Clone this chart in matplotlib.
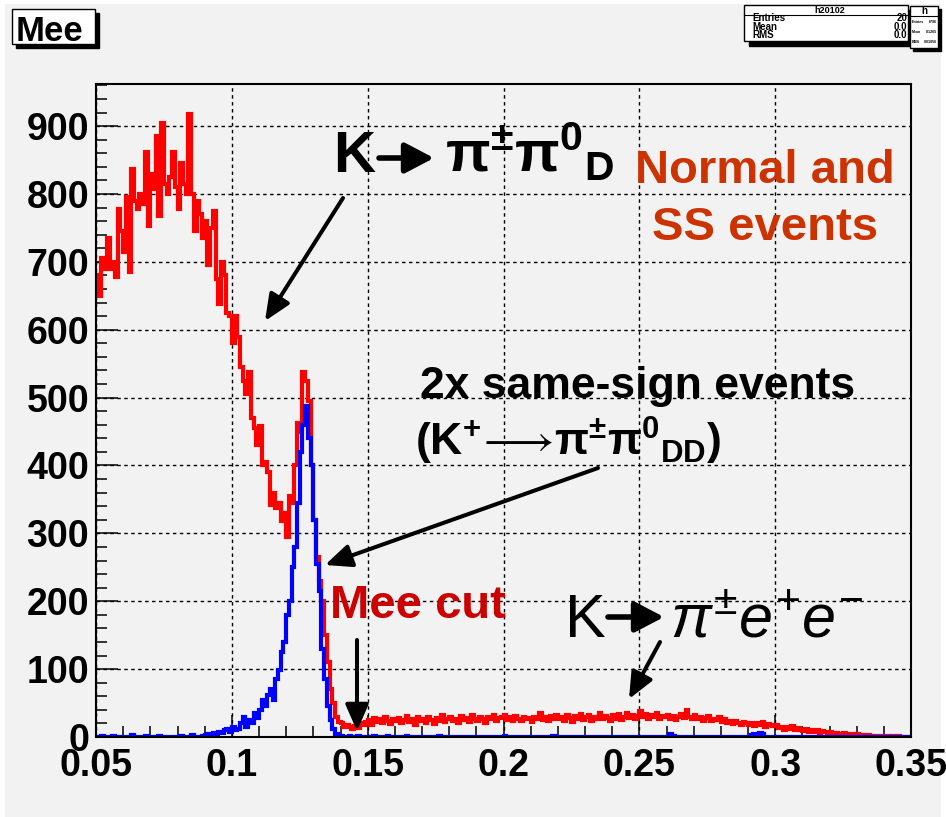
import numpy as np
import matplotlib
matplotlib.use("Agg")
import matplotlib.pyplot as plt
from matplotlib.patches import Rectangle, FancyArrowPatch

plt.rcParams['font.family'] = ['Liberation Sans', 'DejaVu Sans']
plt.rcParams['mathtext.fontset'] = 'custom'
plt.rcParams['mathtext.rm'] = 'Liberation Sans'
plt.rcParams['mathtext.it'] = 'Liberation Sans:italic'
plt.rcParams['mathtext.bf'] = 'Liberation Sans:bold'

# ---------------- histogram data (Mee, bin width 0.001 from 0.05 to 0.35) ----------------
bin_lo, bin_hi, bin_w = 0.05, 0.35, 0.001

normal_ss = [
    # 0.050 - 0.089
    680, 650, 705, 690, 735, 690, 700, 678, 778, 745,
    715, 796, 685, 837, 790, 778, 800, 785, 862, 753,
    830, 808, 885, 768, 904, 815, 800, 825, 862, 810,
    778, 845, 815, 800, 918, 800, 745, 790, 770, 735,
    # 0.090 - 0.139
    760, 695, 750, 775, 675, 638, 700, 680, 625, 620,
    580, 620, 590, 545, 525, 505, 538, 470, 455, 430,
    458, 400, 405, 390, 342, 360, 338, 345, 318, 330,
    295, 355, 345, 400, 462, 450, 538, 525, 495, 400,
    320, 265, 230, 200, 150, 110, 70, 50, 30, 22,
    # 0.140 - 0.349
    20, 15, 18, 14, 12, 16, 13, 20, 17, 22,
    25, 18, 28, 22, 26, 20, 30, 24, 19, 27,
    23, 28, 20, 25, 31, 22, 26, 18, 29, 24,
    27, 21, 30, 25, 19, 28, 24, 32, 22, 26,
    29, 23, 27, 20, 31, 25, 28, 22, 33, 26,
    24, 30, 27, 21, 29, 26, 32, 24, 28, 30,
    33, 25, 29, 23, 31, 27, 24, 30, 26, 28,
    22, 30, 27, 36, 25, 29, 23, 31, 27, 33,
    26, 30, 24, 32, 28, 22, 31, 27, 34, 25,
    29, 33, 24, 30, 27, 35, 26, 31, 28, 24,
    32, 27, 34, 25, 30, 36, 28, 33, 26, 31,
    38, 29, 34, 27, 32, 30, 35, 26, 31, 29,
    33, 27, 31, 25, 29, 34, 28, 40, 30, 27,
    32, 26, 30, 24, 28, 31, 23, 27, 25, 29,
    22, 26, 20, 24, 19, 23, 21, 17, 22, 20,
    18, 21, 16, 20, 17, 22, 15, 19, 18, 16,
    17, 13, 15, 11, 14, 12, 16, 10, 13, 11,
    9, 12, 8, 10, 7, 11, 6, 9, 8, 6,
    7, 5, 6, 4, 5, 6, 3, 4, 5, 3,
    4, 2, 3, 2, 3, 1, 2, 2, 1, 2,
    1, 1, 0, 1, 0, 1, 0, 0, 0, 0,
]

same_sign_x2 = [
    # 0.050 - 0.089
    0, 0, 2, 0, 0, 0, 1, 0, 0, 0,
    0, 0, 0, 3, 0, 0, 0, 0, 1, 0,
    0, 0, 0, 2, 0, 0, 0, 0, 0, 0,
    0, 2, 0, 0, 0, 3, 0, 0, 0, 2,
    # 0.090 - 0.139
    3, 5, 4, 6, 5, 8, 6, 10, 12, 8,
    15, 10, 12, 20, 30, 15, 25, 20, 35, 28,
    40, 55, 45, 62, 70, 55, 85, 98, 125, 140,
    180, 200, 250, 280, 345, 420, 460, 488, 440, 400,
    320, 255, 215, 130, 85, 45, 25, 12, 5, 2,
    # 0.140 - 0.349
    1, 0, 0, 1, 0, 0, 2, 0, 0, 0,
    0, 0, 1, 0, 0, 0, 0, 2, 0, 0,
    0, 0, 0, 0, 1, 0, 0, 0, 0, 0,
    0, 0, 0, 0, 0, 0, 1, 0, 0, 0,
    0, 0, 0, 0, 0, 0, 0, 0, 0, 0,
    0, 0, 0, 0, 0, 0, 0, 0, 0, 0,
    2, 0, 0, 0, 0, 0, 0, 0, 0, 0,
    0, 0, 0, 0, 0, 0, 0, 0, 2, 0,
    0, 0, 0, 0, 0, 0, 0, 0, 0, 0,
    0, 0, 0, 0, 0, 0, 0, 0, 0, 0,
    0, 0, 0, 0, 0, 0, 0, 0, 0, 0,
    0, 0, 0, 0, 0, 0, 0, 0, 0, 0,
    0, 4, 2, 0, 0, 0, 0, 0, 0, 0,
    0, 0, 0, 0, 0, 0, 0, 0, 0, 0,
    0, 0, 0, 0, 0, 0, 0, 0, 0, 0,
    0, 3, 5, 2, 6, 4, 0, 0, 0, 0,
    0, 0, 0, 0, 0, 0, 0, 0, 0, 0,
    0, 0, 0, 0, 0, 0, 0, 0, 0, 0,
    0, 0, 0, 0, 0, 0, 0, 0, 0, 0,
    0, 0, 0, 0, 0, 0, 0, 0, 0, 0,
    0, 0, 0, 0, 0, 0, 0, 0, 0, 0,
]

x_ticks = [0.05, 0.1, 0.15, 0.2, 0.25, 0.3, 0.35]
x_tick_labels = ["0.05", "0.1", "0.15", "0.2", "0.25", "0.3", "0.35"]
y_ticks = [0, 100, 200, 300, 400, 500, 600, 700, 800, 900]
y_tick_labels = [str(v) for v in y_ticks]

# ---------------- figure ----------------
W, H = 946, 817
BG = '#f2f2f2'
fig = plt.figure(figsize=(W / 100, H / 100), dpi=100, facecolor='white')


def fx(px):
    return px / W


def fy(py):
    return 1 - py / H


# grey canvas with thin white margin
fig.add_artist(Rectangle((fx(5), fy(817)), fx(941) - fx(5), fy(4) - fy(817),
                         transform=fig.transFigure, facecolor=BG, edgecolor='none', zorder=-10))

ax = fig.add_axes([fx(96), fy(737), fx(911) - fx(96), fy(84) - fy(737)])
ax.set_facecolor(BG)

edges = np.linspace(bin_lo, bin_hi, len(normal_ss) + 1)
ax.stairs(normal_ss, edges, baseline=None, color='#ff0000', lw=3.0, zorder=3)
ax.stairs(same_sign_x2, edges, baseline=None, color='#0000ff', lw=3.0, zorder=4)

ax.set_xlim(bin_lo, bin_hi)
ax.set_ylim(0, 962)

ax.set_xticks(x_ticks)
ax.set_xticklabels(x_tick_labels)
ax.set_yticks(y_ticks)
ax.set_yticklabels(y_tick_labels)
ax.set_xticks(np.arange(0.05, 0.3501, 0.01), minor=True)
ax.set_yticks(np.arange(0, 961, 20), minor=True)

ax.tick_params(axis='both', which='major', direction='in', length=16, width=1.1,
               labelsize=27, colors='black')
ax.tick_params(axis='both', which='minor', direction='in', length=8, width=1.1)
ax.tick_params(axis='x', which='major', pad=8)
ax.tick_params(axis='y', which='major', pad=5)
for lab in ax.get_xticklabels() + ax.get_yticklabels():
    lab.set_fontweight('bold')

ax.grid(True, which='major', color='black', lw=1.0, linestyle=(0, (2.5, 2.5)), zorder=1)
for s in ax.spines.values():
    s.set_linewidth(1.5)
    s.set_zorder(5)

# ---------------- title box ----------------
def framed_box(x0, y0, x1, y1, shadow=4):
    fig.add_artist(Rectangle((fx(x0 + shadow), fy(y1 + shadow)), fx(x1) - fx(x0), fy(y0) - fy(y1),
                             transform=fig.transFigure, facecolor='black', edgecolor='black', zorder=20))
    fig.add_artist(Rectangle((fx(x0), fy(y1)), fx(x1) - fx(x0), fy(y0) - fy(y1),
                             transform=fig.transFigure, facecolor='white', edgecolor='black',
                             lw=1.0, zorder=21))


framed_box(12, 9, 95, 44, shadow=4)
fig.text(fx(16), fy(41), "Mee", fontsize=25, fontweight='bold', ha='left', va='baseline', zorder=22)

# ---------------- statistics boxes ----------------
framed_box(744, 5, 908, 41, shadow=5)
fig.add_artist(plt.Line2D([fx(744), fx(908)], [fy(15), fy(15)], transform=fig.transFigure,
                          color='black', lw=0.8, zorder=22))
fig.text(fx(830), fy(13), "h20102", fontsize=6.5, fontweight='bold', ha='center', va='baseline', zorder=22)
for row, (name, val) in enumerate([("Entries", "20"), ("Mean", "0.0"), ("RMS", "0.0")]):
    yb = 21 + row * 8.5
    fig.text(fx(752), fy(yb), name, fontsize=7, fontweight='bold', ha='left', va='baseline', zorder=22)
    fig.text(fx(907), fy(yb), val, fontsize=7, fontweight='bold', ha='right', va='baseline', zorder=22)

framed_box(910, 6, 938, 48, shadow=3)
fig.add_artist(plt.Line2D([fx(910), fx(938)], [fy(16), fy(16)], transform=fig.transFigure,
                          color='black', lw=0.8, zorder=22))
fig.text(fx(924), fy(14), "h", fontsize=7, fontweight='bold', ha='center', va='baseline', zorder=23)
for row, (name, val) in enumerate([("Entries", "6796"), ("Mean", "0.1265"), ("RMS", "0.01056")]):
    yb = 23 + row * 10
    fig.text(fx(911.5), fy(yb), name, fontsize=2.6, fontweight='bold', ha='left', va='baseline', zorder=23)
    fig.text(fx(937), fy(yb), val, fontsize=2.6, fontweight='bold', ha='right', va='baseline', zorder=23)

# ---------------- annotations ----------------
def arrow(x0, y0, x1, y1, lw=2.9, scale=20, hl=0.8, hw=0.35):
    fig.add_artist(FancyArrowPatch((fx(x0), fy(y0)), (fx(x1), fy(y1)), transform=fig.transFigure,
                                   arrowstyle=f'-|>,head_length={hl},head_width={hw}',
                                   mutation_scale=scale, lw=lw, color='black',
                                   shrinkA=0, shrinkB=0, zorder=10))


# K -> pi pi0_D
fig.text(fx(333), fy(172), "K", fontsize=42, fontweight='bold', ha='left', va='baseline', zorder=10)
arrow(379, 158, 434, 158, lw=4.0, scale=22, hl=0.8, hw=0.42)
fig.text(fx(445), fy(172), r"$\mathbf{\pi^{\pm}\pi^{0}{}_{D}}$", fontsize=42,
         ha='left', va='baseline', zorder=10)
arrow(343, 198, 265, 321)

fig.text(fx(765), fy(183), "Normal and", fontsize=34, fontweight='bold', color='#cc3300',
         ha='center', va='baseline', zorder=10)
fig.text(fx(765), fy(240), "SS events", fontsize=34, fontweight='bold', color='#cc3300',
         ha='center', va='baseline', zorder=10)

fig.text(fx(420), fy(398), "2x same-sign events", fontsize=32, fontweight='bold',
         ha='left', va='baseline', zorder=10)
fig.text(fx(415), fy(456),
         r"$\mathbf{(K}^{\mathbf{+}}\!\longrightarrow\!\mathbf{\pi}^{\mathbf{\pm}}\mathbf{\pi}^{\mathbf{0}}{}_{\mathbf{DD}}\mathbf{)}$",
         fontsize=32, ha='left', va='baseline', zorder=10)
arrow(598, 468, 325, 565)

fig.text(fx(330), fy(618), "Mee cut", fontsize=34, fontweight='bold', color='#cc0000',
         ha='left', va='baseline', zorder=10)
arrow(357, 640, 357, 731)

fig.text(fx(565), fy(637), "K", fontsize=44, ha='left', va='baseline', zorder=10)
arrow(608, 617, 664, 617, lw=4.0, scale=22, hl=0.8, hw=0.42)
fig.text(fx(670), fy(637), r"$\mathit{\pi^{\pm}e^{+}e^{-}}$", fontsize=44,
         ha='left', va='baseline', zorder=10)
arrow(660, 642, 629, 699)

fig.savefig("out.png", dpi=100, facecolor=fig.get_facecolor())
